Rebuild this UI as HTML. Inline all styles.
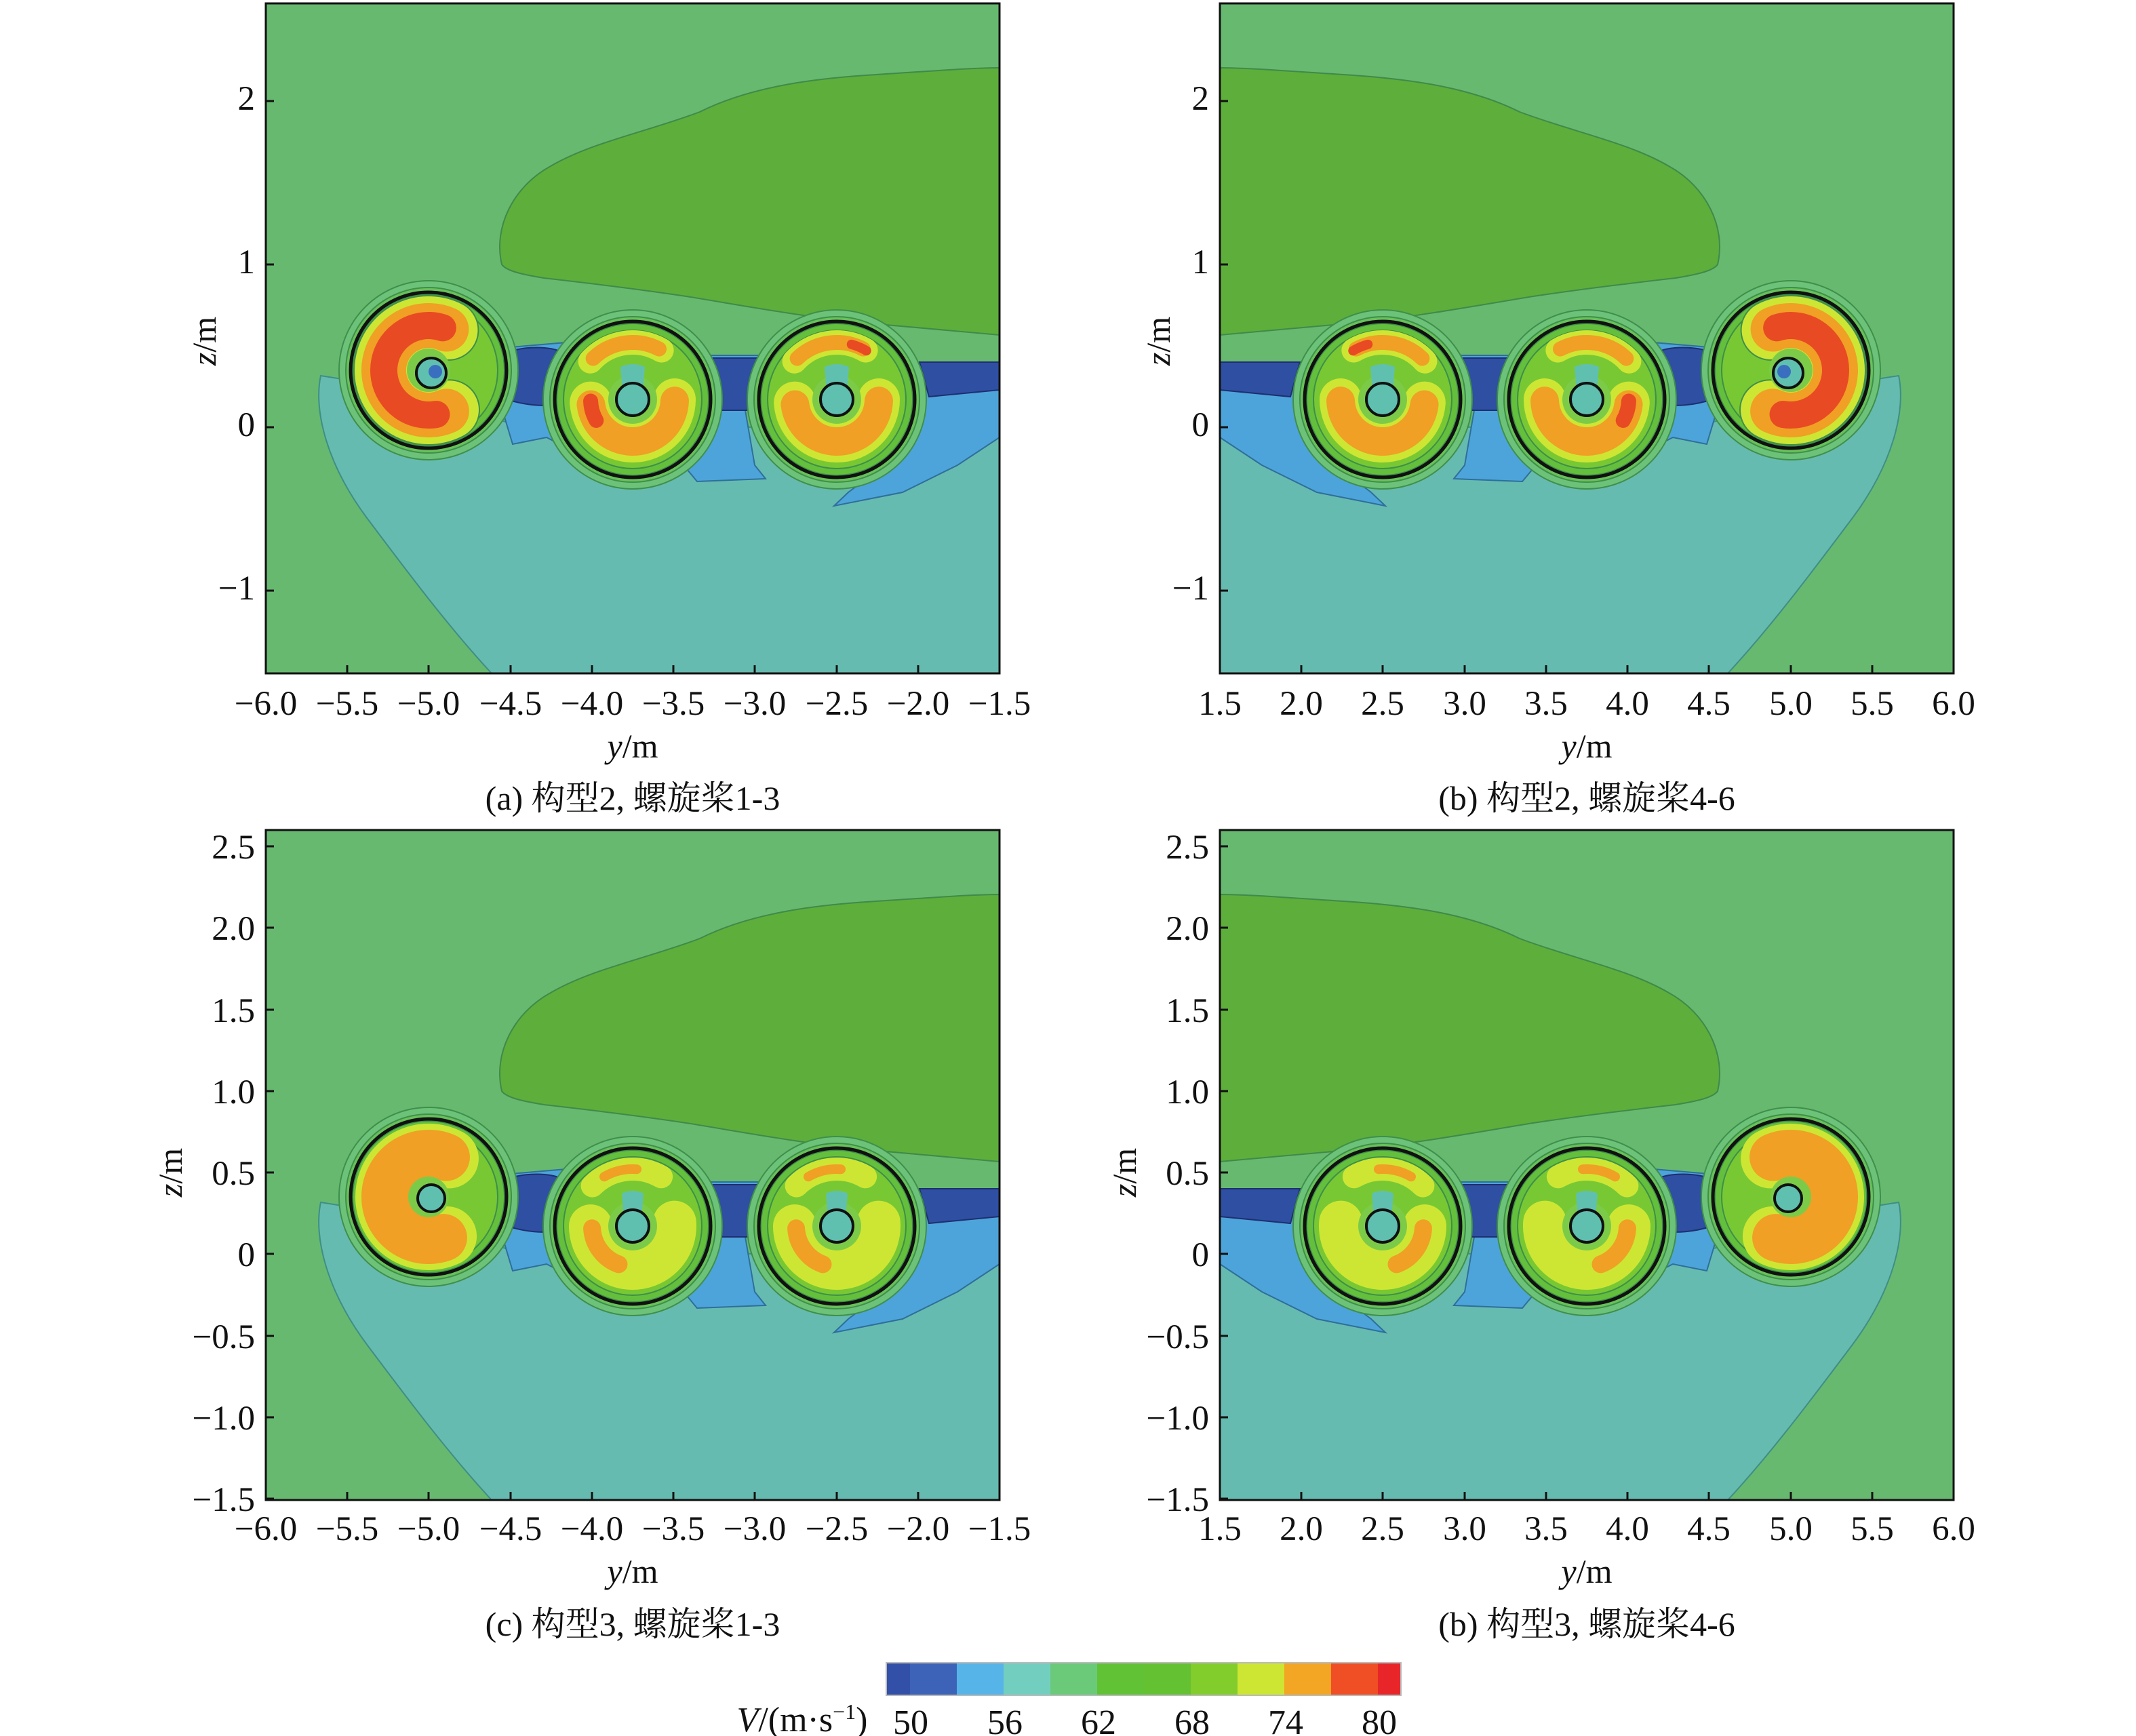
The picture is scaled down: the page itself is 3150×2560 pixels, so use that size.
<!DOCTYPE html>
<html><head><meta charset="utf-8"><style>
html,body{margin:0;padding:0;background:#fff;}
svg{display:block;}
text{font-family:"Liberation Serif","Noto Serif CJK SC","Noto Sans CJK SC",serif;fill:#111;}
</style></head><body>
<svg width="3150" height="2560" viewBox="0 0 3150 2560" xmlns="http://www.w3.org/2000/svg" xmlns:xlink="http://www.w3.org/1999/xlink">
<defs>
<clipPath id="clip"><rect x="0" y="0" width="1082" height="988"/></clipPath>
<g id="field">
  <rect x="0" y="0" width="1082" height="988" fill="#67b970"/>
  <path d="M348,385 C335,330 365,270 420,240 C480,205 560,190 640,160 C720,120 820,110 900,105 C980,100 1040,95 1082,95 L1082,489 C1030,485 960,478 870,470 C780,460 700,445 620,432 C540,420 470,412 410,405 C380,400 355,395 348,385 Z" fill="#5eae3b" stroke="#3f8a4a" stroke-width="2"/>
  <path d="M81,549 C70,600 90,680 150,760 C210,840 270,920 333,988 L1082,988 L1082,620 L700,625 L400,630 L150,560 Z" fill="#66bbb0" stroke="#3d8f86" stroke-width="2"/>
  <path d="M337,509 L455,499 L455,661 L414,640 L364,650 L343,580 Z" fill="#4da4da" stroke="#2e6f9a" stroke-width="2"/>
  <path d="M616,519 L727,519 L707,600 L721,681 L737,701 L636,705 L616,681 L653,600 Z" fill="#4da4da" stroke="#2e6f9a" stroke-width="2"/>
  <path d="M899,560 L1082,529 L1082,640 L1020,681 L939,721 L838,741 L859,721 L939,661 L939,600 Z" fill="#4da4da" stroke="#2e6f9a" stroke-width="2"/>
  <path d="M356,515 C380,505 420,505 438,515 L438,590 C410,596 380,592 356,584 Z" fill="#2f4fa2" stroke="#1e2f70" stroke-width="2"/>
  <path d="M652,523 L733,523 L727,600 L660,600 Z" fill="#2f4fa2" stroke="#1e2f70" stroke-width="2"/>
  <path d="M964,529 L1082,529 L1082,570 L978,580 Z" fill="#2f4fa2" stroke="#1e2f70" stroke-width="2"/>
</g>
<g id="rings">
  <circle r="132" fill="#6dc27a" stroke="#3f8f4a" stroke-width="2"/>
  <circle r="122" fill="#68c15a" stroke="#3f8f4a" stroke-width="2"/>
  <circle r="112" fill="#64c03c" stroke="#3f8f4a" stroke-width="2"/>
  <circle r="102" fill="#78c834" stroke="#3f8f4a" stroke-width="2"/>
</g>
<g id="dA">
  <use xlink:href="#rings"/>
  <g fill="none" stroke-linecap="round">
  <circle r="66" stroke="#3f8f4a" stroke-width="90" stroke-dasharray="270 145" transform="rotate(62)"/>
  <circle r="66" stroke="#cde634" stroke-width="86" stroke-dasharray="270 145" transform="rotate(62)"/>
  <circle r="66" stroke="#f0a024" stroke-width="66" stroke-dasharray="262 153" transform="rotate(66)"/>
  <circle r="66" stroke="#e84a24" stroke-width="40" stroke-dasharray="240 175" transform="rotate(80)"/>
  </g>
  <circle r="32" fill="#7ccb48"/>
  <circle cx="4" cy="2" r="22" fill="#60c0b0"/>
  <circle cx="10" cy="2" r="10" fill="#3a6fc0"/>
  <circle cx="4" cy="4" r="22" fill="none" stroke="#111" stroke-width="4"/>
  <circle r="115" fill="none" stroke="#111" stroke-width="5"/>
</g>
<g id="dB">
  <use xlink:href="#rings"/>
  <g fill="none" stroke-linecap="round">
  <circle r="62" stroke="#cde634" stroke-width="62" stroke-dasharray="190 200" transform="rotate(0)"/>
  <circle r="62" stroke="#f0a024" stroke-width="42" stroke-dasharray="185 205" transform="rotate(2)"/>
  <circle r="84" stroke="#cde634" stroke-width="36" stroke-dasharray="115 413" transform="rotate(-138)"/>
  <circle r="84" stroke="#f0a024" stroke-width="22" stroke-dasharray="105 423" transform="rotate(-134)"/>
  </g>
  <circle r="36" fill="#7ccb48"/>
  <path d="M-18,-48 Q0,-56 18,-48 L14,0 L-14,0 Z" fill="#60c0b0"/>
  <circle r="24" fill="#60c0b0" stroke="#111" stroke-width="4"/>
  <circle r="115" fill="none" stroke="#111" stroke-width="5"/>
</g>
<g id="dB2">
  <use xlink:href="#dB"/>
  <circle r="62" fill="none" stroke="#e84a24" stroke-width="22" stroke-linecap="round" stroke-dasharray="30 360" transform="rotate(150)"/>
</g>
<g id="dB3">
  <use xlink:href="#dB"/>
  <circle r="84" fill="none" stroke="#e84a24" stroke-width="14" stroke-linecap="round" stroke-dasharray="24 504" transform="rotate(-75)"/>
</g>
<g id="dC">
  <use xlink:href="#rings"/>
  <g fill="none" stroke-linecap="round">
  <circle r="64" stroke="#cde634" stroke-width="88" stroke-dasharray="260 142" transform="rotate(65)"/>
  <circle r="64" stroke="#f0a024" stroke-width="70" stroke-dasharray="250 152" transform="rotate(70)"/>
  </g>
  <circle r="30" fill="#7ccb48"/>
  <circle cx="4" cy="2" r="20" fill="#60c0b0" stroke="#111" stroke-width="4"/>
  <circle r="115" fill="none" stroke="#111" stroke-width="5"/>
</g>
<g id="dD">
  <use xlink:href="#rings"/>
  <g fill="none" stroke-linecap="round">
  <circle r="62" stroke="#cde634" stroke-width="64" stroke-dasharray="200 190" transform="rotate(-5)"/>
  <circle r="60" stroke="#f0a024" stroke-width="26" stroke-dasharray="70 320" transform="rotate(110)"/>
  <circle r="84" stroke="#cde634" stroke-width="34" stroke-dasharray="110 418" transform="rotate(-135)"/>
  <circle r="84" stroke="#f0a024" stroke-width="14" stroke-dasharray="50 478" transform="rotate(-120)"/>
  </g>
  <circle r="36" fill="#7ccb48"/>
  <path d="M-16,-48 Q0,-56 16,-48 L12,0 L-12,0 Z" fill="#60c0b0"/>
  <circle r="24" fill="#60c0b0" stroke="#111" stroke-width="4"/>
  <circle r="115" fill="none" stroke="#111" stroke-width="5"/>
</g>
<g id="contentTop">
  <use xlink:href="#field"/>
  <use xlink:href="#dA" x="240" y="541"/>
  <use xlink:href="#dB2" x="541" y="584"/>
  <use xlink:href="#dB3" x="842" y="584"/>
</g>
<g id="contentBot">
  <use xlink:href="#field"/>
  <use xlink:href="#dC" x="240" y="541"/>
  <use xlink:href="#dD" x="541" y="584"/>
  <use xlink:href="#dD" x="842" y="584"/>
</g>
<g id="xticks" stroke="#111" stroke-width="3">
  <line x1="0" y1="988" x2="0" y2="976"/><line x1="120" y1="988" x2="120" y2="976"/><line x1="240" y1="988" x2="240" y2="976"/><line x1="361" y1="988" x2="361" y2="976"/><line x1="481" y1="988" x2="481" y2="976"/><line x1="601" y1="988" x2="601" y2="976"/><line x1="721" y1="988" x2="721" y2="976"/><line x1="842" y1="988" x2="842" y2="976"/><line x1="962" y1="988" x2="962" y2="976"/><line x1="1082" y1="988" x2="1082" y2="976"/>
</g>
<g id="ytTop" stroke="#111" stroke-width="3">
  <line x1="0" y1="144" x2="12" y2="144"/><line x1="0" y1="385" x2="12" y2="385"/><line x1="0" y1="625" x2="12" y2="625"/><line x1="0" y1="866" x2="12" y2="866"/>
</g>
<g id="ytBot" stroke="#111" stroke-width="3">
  <line x1="0" y1="24" x2="12" y2="24"/><line x1="0" y1="144" x2="12" y2="144"/><line x1="0" y1="265" x2="12" y2="265"/><line x1="0" y1="385" x2="12" y2="385"/><line x1="0" y1="505" x2="12" y2="505"/><line x1="0" y1="625" x2="12" y2="625"/><line x1="0" y1="746" x2="12" y2="746"/><line x1="0" y1="866" x2="12" y2="866"/><line x1="0" y1="986" x2="12" y2="986"/>
</g>
</defs>

<g transform="translate(392,5)">
  <g clip-path="url(#clip)"><use xlink:href="#contentTop"/></g>
  <rect x="0" y="0" width="1082" height="988" fill="none" stroke="#111" stroke-width="3"/>
  <use xlink:href="#xticks"/><use xlink:href="#ytTop"/>
</g>
<g transform="translate(2881,5) scale(-1,1)">
  <g clip-path="url(#clip)"><use xlink:href="#contentTop"/></g>
</g>
<g transform="translate(1799,5)">
  <rect x="0" y="0" width="1082" height="988" fill="none" stroke="#111" stroke-width="3"/>
  <use xlink:href="#xticks"/><use xlink:href="#ytTop"/>
</g>
<g transform="translate(392,1224)">
  <g clip-path="url(#clip)"><use xlink:href="#contentBot"/></g>
  <rect x="0" y="0" width="1082" height="988" fill="none" stroke="#111" stroke-width="3"/>
  <use xlink:href="#xticks"/><use xlink:href="#ytBot"/>
</g>
<g transform="translate(2881,1224) scale(-1,1)">
  <g clip-path="url(#clip)"><use xlink:href="#contentBot"/></g>
</g>
<g transform="translate(1799,1224)">
  <rect x="0" y="0" width="1082" height="988" fill="none" stroke="#111" stroke-width="3"/>
  <use xlink:href="#xticks"/><use xlink:href="#ytBot"/>
</g>

<g font-size="51" text-anchor="middle">
  <text x="392" y="1054">−6.0</text><text x="512" y="1054">−5.5</text><text x="632" y="1054">−5.0</text><text x="753" y="1054">−4.5</text><text x="873" y="1054">−4.0</text><text x="993" y="1054">−3.5</text><text x="1113" y="1054">−3.0</text><text x="1234" y="1054">−2.5</text><text x="1354" y="1054">−2.0</text><text x="1474" y="1054">−1.5</text>
  <text x="1799" y="1054">1.5</text><text x="1919" y="1054">2.0</text><text x="2039" y="1054">2.5</text><text x="2160" y="1054">3.0</text><text x="2280" y="1054">3.5</text><text x="2400" y="1054">4.0</text><text x="2520" y="1054">4.5</text><text x="2641" y="1054">5.0</text><text x="2761" y="1054">5.5</text><text x="2881" y="1054">6.0</text>
  <text x="392" y="2271">−6.0</text><text x="512" y="2271">−5.5</text><text x="632" y="2271">−5.0</text><text x="753" y="2271">−4.5</text><text x="873" y="2271">−4.0</text><text x="993" y="2271">−3.5</text><text x="1113" y="2271">−3.0</text><text x="1234" y="2271">−2.5</text><text x="1354" y="2271">−2.0</text><text x="1474" y="2271">−1.5</text>
  <text x="1799" y="2271">1.5</text><text x="1919" y="2271">2.0</text><text x="2039" y="2271">2.5</text><text x="2160" y="2271">3.0</text><text x="2280" y="2271">3.5</text><text x="2400" y="2271">4.0</text><text x="2520" y="2271">4.5</text><text x="2641" y="2271">5.0</text><text x="2761" y="2271">5.5</text><text x="2881" y="2271">6.0</text>
</g>
<g font-size="51" text-anchor="end">
  <text x="376" y="162">2</text><text x="376" y="403">1</text><text x="376" y="643">0</text><text x="376" y="884">−1</text>
  <text x="1783" y="162">2</text><text x="1783" y="403">1</text><text x="1783" y="643">0</text><text x="1783" y="884">−1</text>
  <text x="376" y="1266">2.5</text><text x="376" y="1386">2.0</text><text x="376" y="1507">1.5</text><text x="376" y="1627">1.0</text><text x="376" y="1747">0.5</text><text x="376" y="1867">0</text><text x="376" y="1988">−0.5</text><text x="376" y="2108">−1.0</text><text x="376" y="2228">−1.5</text>
  <text x="1783" y="1266">2.5</text><text x="1783" y="1386">2.0</text><text x="1783" y="1507">1.5</text><text x="1783" y="1627">1.0</text><text x="1783" y="1747">0.5</text><text x="1783" y="1867">0</text><text x="1783" y="1988">−0.5</text><text x="1783" y="2108">−1.0</text><text x="1783" y="2228">−1.5</text>
</g>
<g font-size="50" text-anchor="middle">
  <text x="933" y="1117"><tspan font-style="italic">y</tspan>/m</text>
  <text x="2340" y="1117"><tspan font-style="italic">y</tspan>/m</text>
  <text x="933" y="2334"><tspan font-style="italic">y</tspan>/m</text>
  <text x="2340" y="2334"><tspan font-style="italic">y</tspan>/m</text>
  <text transform="translate(318,503) rotate(-90)"><tspan font-style="italic">z</tspan>/m</text>
  <text transform="translate(1725,503) rotate(-90)"><tspan font-style="italic">z</tspan>/m</text>
  <text transform="translate(268,1729) rotate(-90)"><tspan font-style="italic">z</tspan>/m</text>
  <text transform="translate(1675,1729) rotate(-90)"><tspan font-style="italic">z</tspan>/m</text>
  <text x="933" y="1194">(a) 构型2, 螺旋桨1-3</text>
  <text x="2340" y="1194">(b) 构型2, 螺旋桨4-6</text>
  <text x="933" y="2412">(c) 构型3, 螺旋桨1-3</text>
  <text x="2340" y="2412">(b) 构型3, 螺旋桨4-6</text>
</g>
<g transform="translate(1307,2452)">
  <rect x="0" y="0" width="35" height="48" fill="#3350a8"/>
  <rect x="35" y="0" width="69" height="48" fill="#3d63b8"/>
  <rect x="104" y="0" width="69" height="48" fill="#56b4e8"/>
  <rect x="173" y="0" width="69" height="48" fill="#72cfc0"/>
  <rect x="242" y="0" width="69" height="48" fill="#6aca7a"/>
  <rect x="311" y="0" width="69" height="48" fill="#62c236"/>
  <rect x="380" y="0" width="69" height="48" fill="#64c232"/>
  <rect x="449" y="0" width="69" height="48" fill="#82cc2c"/>
  <rect x="518" y="0" width="69" height="48" fill="#cde634"/>
  <rect x="587" y="0" width="69" height="48" fill="#f3a524"/>
  <rect x="656" y="0" width="69" height="48" fill="#f04e24"/>
  <rect x="725" y="0" width="34" height="48" fill="#e8262a"/>
  <rect x="0" y="0" width="759" height="48" fill="none" stroke="#bbb" stroke-width="2"/>
</g>
<g font-size="52" text-anchor="middle">
  <text x="1183" y="2553"><tspan font-style="italic">V</tspan>/(m·s<tspan font-size="32" dy="-18">−1</tspan><tspan dy="18">)</tspan></text>
  <text x="1343" y="2557">50</text><text x="1482" y="2557">56</text><text x="1620" y="2557">62</text><text x="1758" y="2557">68</text><text x="1896" y="2557">74</text><text x="2034" y="2557">80</text>
</g>
</svg>
</body></html>
